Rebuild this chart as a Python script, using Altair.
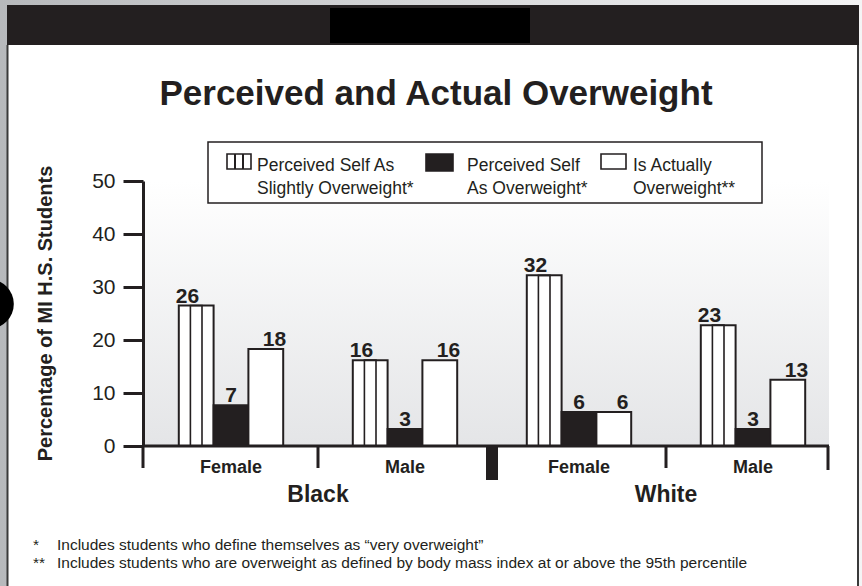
import altair as alt
import pandas as pd

# ---------------- data ----------------
groups = ["Black|Female", "Black|Male", "White|Female", "White|Male"]
races = ["Black", "Black", "White", "White"]
genders = ["Female", "Male", "Female", "Male"]
series = ["Perceived Self As Slightly Overweight*",
          "Perceived Self As Overweight*",
          "Is Actually Overweight**"]
legend_lines = [["Perceived Self As", "Slightly Overweight*"],
                ["Perceived Self", "As Overweight*"],
                ["Is Actually", "Overweight**"]]
slightly = [26.5, 16.2, 32.2, 22.8]
overweight = [7.7, 3.2, 6.4, 3.2]
actually = [18.3, 16.2, 6.4, 12.5]
slightly_lbl = [26, 16, 32, 23]
overweight_lbl = [7, 3, 6, 3]
actually_lbl = [18, 16, 6, 13]
y_ticks = [0, 10, 20, 30, 40, 50]
title_text = "Perceived and Actual Overweight"
y_title = "Percentage of MI H.S. Students"
footnote_marks = ["*", "**"]
footnotes = ["Includes students who define themselves as \u201cvery overweight\u201d",
             "Includes students who are overweight as defined by body mass index at or above the 95th percentile"]

rows = []
for i, g in enumerate(groups):
    for s, vals, lbls in zip(series, [slightly, overweight, actually],
                             [slightly_lbl, overweight_lbl, actually_lbl]):
        rows.append({"group": g, "race": races[i], "gender": genders[i],
                     "series": s, "value": vals[i], "label": str(lbls[i])})
df = pd.DataFrame(rows)
# each group band is split into 15 thin slots; the striped bar covers slots 3-5,
# and its middle third (slot 4) is outlined to draw the two stripes
slots = ["s%02d" % k for k in range(15)]
stripe_df = pd.DataFrame({"group": groups, "value": slightly, "slot": ["s04"] * 4})
gdf = pd.DataFrame({"group": groups, "race": races, "gender": genders})
dummy = pd.DataFrame({"d": [0]})

DARK = "#231f20"
FONT = "Liberation Sans"
W, H = 685, 265

xscale = alt.Scale(domain=groups, range=[1, 697], paddingInner=0, paddingOuter=0)
xoff = alt.Scale(domain=series, paddingInner=0, paddingOuter=1.0)
slot_scale = alt.Scale(domain=slots, paddingInner=0, paddingOuter=0)
yscale = alt.Scale(domain=[0, 50], nice=False)
yaxis = alt.Axis(values=y_ticks, grid=False, domainWidth=3, domainColor=DARK,
                 tickSize=20, tickWidth=3, tickColor=DARK,
                 labelFontSize=21, labelColor=DARK, labelPadding=8, labelFont=FONT,
                 title=y_title, titleFontSize=20, titleFontWeight="bold", titleColor=DARK,
                 titleFont=FONT, titleX=-98, titleY=132, titleAngle=270,
                 titleAlign="center", titleBaseline="middle", zindex=1)

X = alt.X("group:N", scale=xscale, axis=None)
XO = alt.XOffset("series:N", scale=xoff)
Y = alt.Y("value:Q", scale=yscale, axis=yaxis)

def deco():
    return alt.Chart(dummy)

layers = []
# outer gray background
layers.append(deco().mark_rect(color=alt.LinearGradient(
    gradient="linear", x1=0, x2=1, y1=0, y2=0,
    stops=[alt.GradientStop(color="#b7b9bc", offset=0),
           alt.GradientStop(color="#f4f4f5", offset=1)])).encode(
    x=alt.value(-143), x2=alt.value(719), y=alt.value(-181), y2=alt.value(405)))
# white panel
layers.append(deco().mark_rect(color="white").encode(
    x=alt.value(-135), x2=alt.value(715), y=alt.value(-136), y2=alt.value(420)))
# panel borders
for xv in [-135.5, 715]:
    layers.append(deco().mark_rule(color="#3a3a3a", strokeWidth=2).encode(
        x=alt.value(xv), y=alt.value(-136), y2=alt.value(410)))
# top bar
layers.append(deco().mark_rect(color=DARK).encode(
    x=alt.value(-136), x2=alt.value(716), y=alt.value(-176), y2=alt.value(-136)))
layers.append(deco().mark_rect(color="#000000").encode(
    x=alt.value(187), x2=alt.value(387), y=alt.value(-173), y2=alt.value(-138)))
# black circle on the left edge
layers.append(deco().mark_circle(color="#000000", opacity=1, size=2463).encode(
    x=alt.value(-154), y=alt.value(123)))
# gradient plot background
layers.append(deco().mark_rect(color=alt.LinearGradient(
    gradient="linear", x1=0, x2=0, y1=0, y2=1,
    stops=[alt.GradientStop(color="#ffffff", offset=0),
           alt.GradientStop(color="#e4e5e7", offset=1)])).encode(
    x=alt.value(0), x2=alt.value(W + 1), y=alt.value(0), y2=alt.value(H)))

# bars
layers.append(alt.Chart(df).mark_bar(stroke=DARK, strokeWidth=2).encode(
    x=X, xOffset=XO, y=Y,
    fill=alt.Fill("series:N", scale=alt.Scale(domain=series, range=["white", DARK, "white"]),
                  legend=None)))
# stripes on "slightly overweight" bars (outline of the middle third)
layers.append(alt.Chart(stripe_df).mark_bar(fillOpacity=0, stroke=DARK, strokeWidth=1.6).encode(
    x=X, xOffset=alt.XOffset("slot:N", scale=slot_scale), y=Y))
# value labels
layers.append(alt.Chart(df).mark_text(font=FONT, fontSize=21, fontWeight="bold", color=DARK,
                                      baseline="alphabetic", dy=-3).encode(
    x=X, xOffset=XO, y=Y, text="label:N"))

# x axis line and extensions
layers.append(deco().mark_rule(color=DARK, strokeWidth=3).encode(
    x=alt.value(0), x2=alt.value(W + 1), y=alt.value(H)))
layers.append(deco().mark_rule(color=DARK, strokeWidth=3).encode(
    x=alt.value(0), y=alt.value(H), y2=alt.value(H + 22)))
layers.append(deco().mark_rule(color=DARK, strokeWidth=3).encode(
    x=alt.value(W), y=alt.value(H), y2=alt.value(H + 24)))
# separators between Female / Male
layers.append(alt.Chart(gdf).transform_filter(alt.datum.gender == "Male").mark_rule(
    color=DARK, strokeWidth=3).encode(
    x=alt.X("group:N", scale=xscale, axis=None, bandPosition=0),
    y=alt.value(H), y2=alt.value(H + 22)))
# break block between Black and White
layers.append(alt.Chart(gdf).transform_filter(alt.datum.group == "White|Female").mark_rule(
    color=DARK, strokeWidth=12).encode(
    x=alt.X("group:N", scale=xscale, axis=None, bandPosition=0),
    y=alt.value(H), y2=alt.value(H + 34)))
# gender labels
layers.append(alt.Chart(gdf).mark_text(font=FONT, fontSize=18, fontWeight="bold",
                                       color=DARK, baseline="alphabetic").encode(
    x=X, y=alt.value(H + 27), text="gender:N"))
# race labels
layers.append(alt.Chart(gdf).transform_filter(alt.datum.gender == "Male").mark_text(
    font=FONT, fontSize=23, fontWeight="bold", color=DARK, baseline="alphabetic").encode(
    x=alt.X("group:N", scale=xscale, axis=None, bandPosition=0),
    y=alt.value(H + 56), text="race:N"))

# legend (manual)
layers.append(deco().mark_rect(fill="white", stroke=DARK, strokeWidth=1.5).encode(
    x=alt.value(65), x2=alt.value(619), y=alt.value(-39), y2=alt.value(22)))
sw = [(84, 108, -27, -12, "white"), (283, 310, -27, -10, DARK), (458, 483, -27, -12, "white")]
for (x1, x2, y1, y2, f) in sw:
    layers.append(deco().mark_rect(fill=f, stroke=DARK, strokeWidth=1.6).encode(
        x=alt.value(x1), x2=alt.value(x2), y=alt.value(y1), y2=alt.value(y2)))
for xv in [92, 100]:
    layers.append(deco().mark_rule(color=DARK, strokeWidth=2).encode(
        x=alt.value(xv), y=alt.value(-27), y2=alt.value(-12)))
for xv, lines in zip([114, 324, 490], legend_lines):
    layers.append(deco().mark_text(text=lines, font=FONT, fontSize=17.5, color=DARK,
                                   align="left", baseline="alphabetic", lineHeight=23).encode(
        x=alt.value(xv), y=alt.value(-10)))

# chart title
layers.append(deco().mark_text(text=title_text, font=FONT, fontSize=35, fontWeight="bold",
                               color=DARK, align="center", baseline="alphabetic").encode(
    x=alt.value(293), y=alt.value(-76)))
# footnotes
layers.append(deco().mark_text(text=footnote_marks, font=FONT, fontSize=15.5, color=DARK,
                               align="left", baseline="alphabetic", lineHeight=18).encode(
    x=alt.value(-110), y=alt.value(369)))
layers.append(deco().mark_text(text=footnotes, font=FONT, fontSize=15.5, color=DARK,
                               align="left", baseline="alphabetic", lineHeight=18).encode(
    x=alt.value(-86), y=alt.value(369)))

chart = alt.layer(*layers).resolve_scale(xOffset="independent").properties(
    width=W, height=H,
    autosize=alt.AutoSizeParams(type="none"),
    padding={"left": 143, "top": 181, "right": 34, "bottom": 140},
    background="#c4c6c8",
).configure_view(stroke=None).configure(font=FONT)

chart.save("out.html", embed_options={"renderer": "svg", "actions": False})
